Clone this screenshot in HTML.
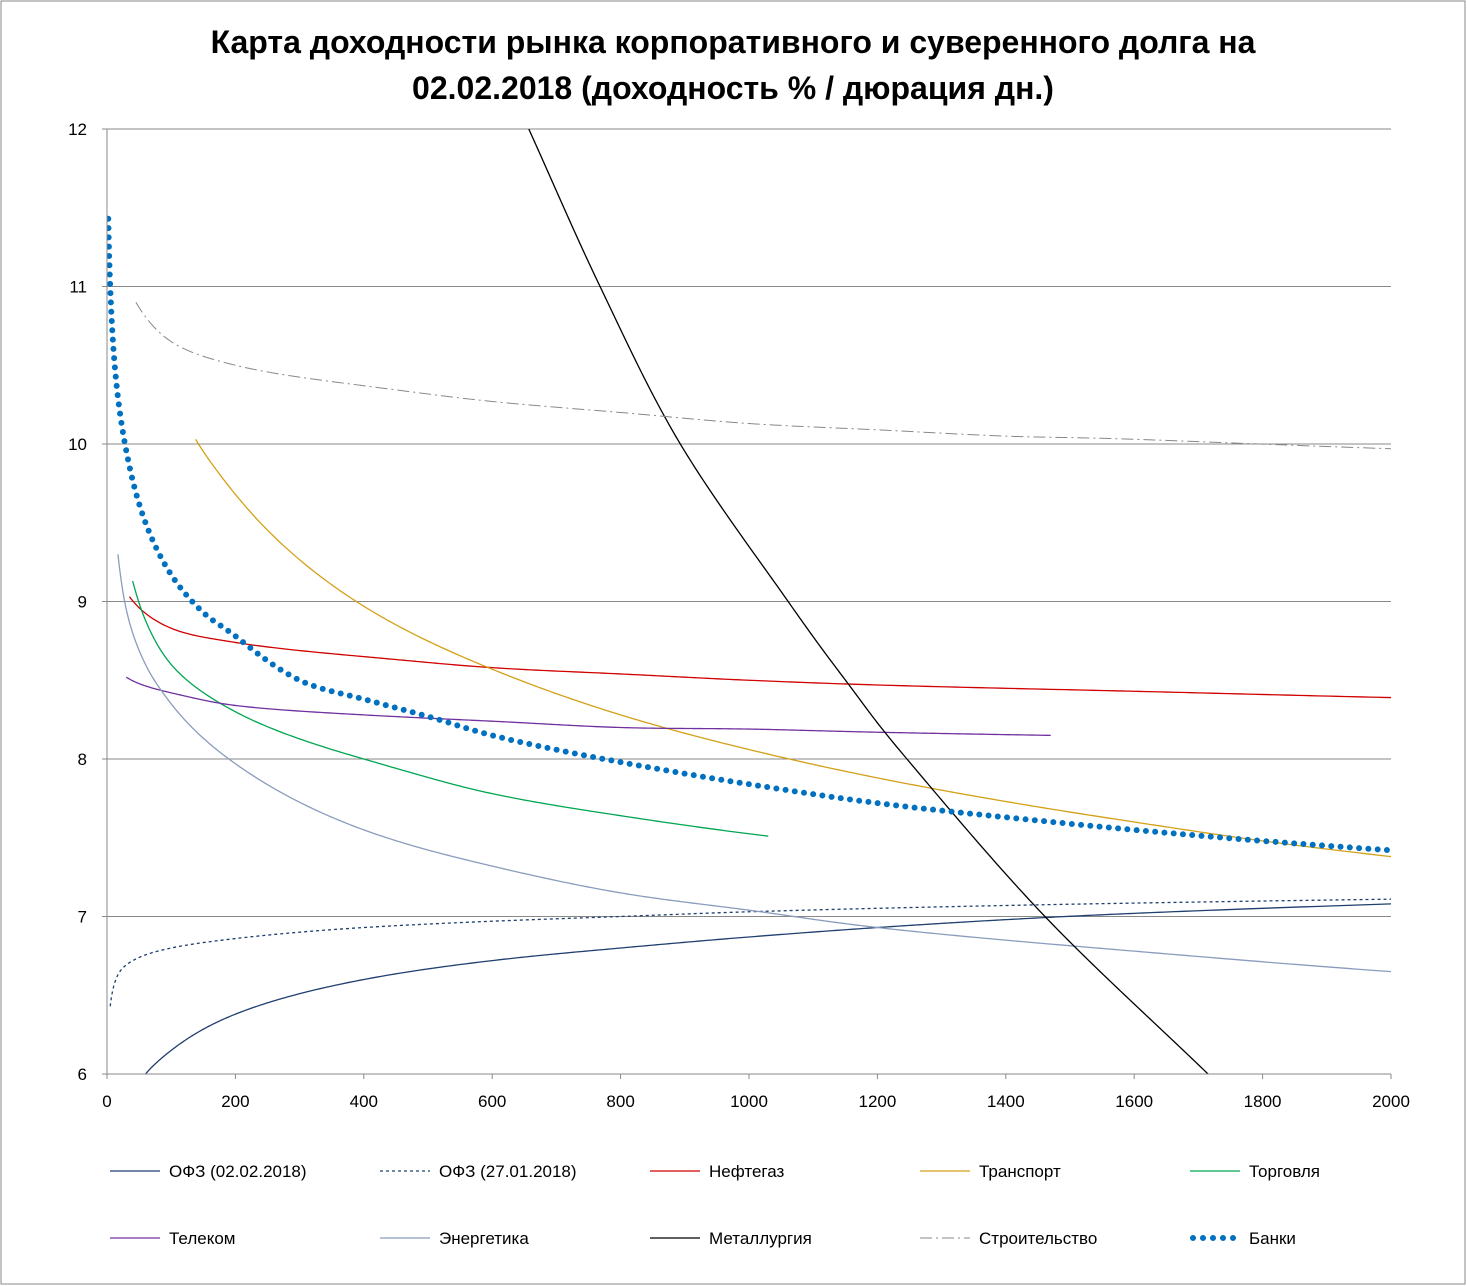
<!DOCTYPE html>
<html><head><meta charset="utf-8">
<style>
html,body{margin:0;padding:0;background:#fff;}
svg{display:block;font-family:"Liberation Sans",sans-serif;}
</style></head>
<body>
<svg id="chart" width="1467" height="1286" xmlns="http://www.w3.org/2000/svg">
<defs><clipPath id="plotclip"><rect x="107" y="129" width="1286" height="945"/></clipPath></defs>
<rect x="1" y="1" width="1464" height="1283" fill="#fff" stroke="#888"/>
<text x="733" y="53" text-anchor="middle" font-size="32" font-weight="bold">Карта доходности рынка корпоративного и суверенного долга на</text>
<text x="733" y="99" text-anchor="middle" font-size="32" font-weight="bold">02.02.2018 (доходность % / дюрация дн.)</text>
<g id="grid"></g>
<g id="series"></g>
<g id="axes"></g>
<g id="legend"></g>
</svg>
<script>
const xTickLabels=[0,200,400,600,800,1000,1200,1400,1600,1800,2000];
const yTickLabels=[6,7,8,9,10,11,12];
const seriesNames=["ОФЗ (02.02.2018)","ОФЗ (27.01.2018)","Нефтегаз","Транспорт","Торговля","Телеком","Энергетика","Металлургия","Строительство","Банки"];
const ofz0202X=[60,100,200,400,600,800,1000,1200,1400,1600,2000];
const ofz0202Y=[6.0,6.15,6.38,6.6,6.72,6.8,6.87,6.93,6.98,7.02,7.08];
const ofz2701X=[5,10,20,50,100,200,400,600,800,1000,1400,2000];
const ofz2701Y=[6.43,6.55,6.65,6.74,6.8,6.86,6.93,6.97,7.0,7.03,7.07,7.11];
const neftegazX=[35,100,200,400,600,800,1000,1200,1600,2000];
const neftegazY=[9.03,8.83,8.74,8.65,8.58,8.54,8.5,8.47,8.43,8.39];
const transportX=[138,200,400,600,800,1000,1200,1400,1600,1800,2000];
const transportY=[10.03,9.68,8.97,8.57,8.28,8.06,7.88,7.73,7.6,7.48,7.38];
const torgovlyaX=[40,60,100,200,400,600,800,1030];
const torgovlyaY=[9.13,8.88,8.6,8.3,8.0,7.78,7.64,7.51];
const telekomX=[30,100,200,400,600,800,1000,1200,1470];
const telekomY=[8.52,8.42,8.34,8.28,8.24,8.2,8.19,8.17,8.15];
const energetikaX=[17,30,60,100,200,400,600,800,1000,1200,1600,2000];
const energetikaY=[9.3,8.95,8.6,8.35,7.97,7.55,7.32,7.15,7.04,6.93,6.78,6.65];
const metallurgX=[657,768,893,1061,1154,1246,1461,1715];
const metallurgY=[12,11,10,9,8.48,8,7,6];
const stroitX=[45,100,200,400,600,800,1000,1200,1400,1600,2000];
const stroitY=[10.9,10.65,10.5,10.37,10.27,10.2,10.13,10.09,10.05,10.03,9.97];
const bankiX=[2,5,12,28,60,100,150,200,300,400,500,600,800,1000,1200,1400,1600,1800,2000];
const bankiY=[11.43,11.0,10.5,10.0,9.5,9.17,8.93,8.78,8.5,8.38,8.27,8.15,7.98,7.84,7.72,7.63,7.55,7.48,7.42];

const X0=107,X1=1391,Y0=1074,Y1=129,XMAX=2000,YMIN=6,YMAX=12;
function sx(v){return X0+v/XMAX*(X1-X0);}
function sy(v){return Y0-(v-YMIN)/(YMAX-YMIN)*(Y0-Y1);}
const NS="http://www.w3.org/2000/svg";
function mk(tag,attrs,parent){const e=document.createElementNS(NS,tag);for(const k in attrs)e.setAttribute(k,attrs[k]);parent.appendChild(e);return e;}

const grid=document.getElementById('grid');
yTickLabels.forEach(v=>{
  if(v>YMIN){const l=mk('line',{x1:X0,x2:X1,y1:sy(v),y2:sy(v),stroke:'#888','stroke-width':1},grid);
  
  }
});
const axes=document.getElementById('axes');
const xa=mk('line',{x1:X0,x2:X1,y1:Y0,y2:Y0,stroke:'#888'},axes);


const ya=mk('line',{x1:X0,x2:X0,y1:Y1,y2:Y0,stroke:'#888'},axes);


yTickLabels.forEach(v=>{
  const t=mk('text',{x:X0-20,y:sy(v)+6,'text-anchor':'end','font-size':17},axes);t.textContent=v;
  
  
  const tk=mk('line',{x1:X0-5,x2:X0,y1:sy(v),y2:sy(v),stroke:'#888'},axes);
  
  
});
xTickLabels.forEach(v=>{
  const t=mk('text',{x:sx(v),y:Y0+33,'text-anchor':'middle','font-size':17},axes);t.textContent=v;
  
  
  const tk=mk('line',{x1:sx(v),x2:sx(v),y1:Y0,y2:Y0+5,stroke:'#888'},axes);
  
  
});

const styles=[
 {c:'#1f3f6f',w:1.3,d:''},
 {c:'#1f3f6f',w:1.3,d:'3 3'},
 {c:'#d00000',w:1.3,d:''},
 {c:'#d4a017',w:1.3,d:''},
 {c:'#00a651',w:1.3,d:''},
 {c:'#7030a0',w:1.3,d:''},
 {c:'#8a9cbd',w:1.3,d:''},
 {c:'#000',w:1.3,d:''},
 {c:'#888',w:1,d:'12 4 2 4'},
 {c:'#0070c0',w:6,d:'0 9.3',cap:'round'}
];
const data=[[ofz0202X,ofz0202Y],[ofz2701X,ofz2701Y],[neftegazX,neftegazY],[transportX,transportY],[torgovlyaX,torgovlyaY],[telekomX,telekomY],[energetikaX,energetikaY],[metallurgX,metallurgY],[stroitX,stroitY],[bankiX,bankiY]];
const keys=['ofz-0202','ofz-2701','neftegaz','transport','torgovlya','telekom','energetika','metallurgiya','stroitelstvo','banki'];
const logSpace=[true,true,true,true,true,true,true,false,true,true];

// Catmull-Rom in (u,y) space, u = ln(x) for log-shaped curves, sampled densely
function sampleCurve(xs,ys,useLog){
  const u=xs.map(x=>useLog?Math.log(x):x);
  const out=[];
  const n=xs.length;
  for(let i=0;i<n-1;i++){
    const i0=Math.max(0,i-1),i3=Math.min(n-1,i+2);
    const P=[[u[i0],ys[i0]],[u[i],ys[i]],[u[i+1],ys[i+1]],[u[i3],ys[i3]]];
    if(i===0){P[0]=[2*P[1][0]-P[2][0],2*P[1][1]-P[2][1]];}
    if(i+2>n-1){P[3]=[2*P[2][0]-P[1][0],2*P[2][1]-P[1][1]];}
    const S=40;
    for(let k=(i===0?0:1);k<=S;k++){
      const t=k/S,t2=t*t,t3=t2*t;
      const f=j=>0.5*((2*P[1][j])+(-P[0][j]+P[2][j])*t+(2*P[0][j]-5*P[1][j]+4*P[2][j]-P[3][j])*t2+(-P[0][j]+3*P[1][j]-3*P[2][j]+P[3][j])*t3);
      const uu=f(0),yy=f(1);
      const xx=useLog?Math.exp(uu):uu;
      out.push([sx(xx),sy(yy)]);
    }
  }
  return out;
}
const sg=document.getElementById('series');
data.forEach((s,i)=>{
  const pts=sampleCurve(s[0],s[1],logSpace[i]);
  const st=styles[i];
  const d='M'+pts.map(p=>p[0].toFixed(2)+','+p[1].toFixed(2)).join(' L');
  const p=mk('path',{d:d,fill:'none',stroke:st.c,'stroke-width':st.w,'clip-path':'url(#plotclip)','stroke-linejoin':'round'},sg);
  if(st.d)p.setAttribute('stroke-dasharray',st.d);
  if(st.cap)p.setAttribute('stroke-linecap',st.cap);
  
  
});

const lg=document.getElementById('legend');
const lx=[110,380,650,920,1190];
seriesNames.forEach((n,i)=>{
  const col=i%5,row=Math.floor(i/5);
  const y=row?1238:1171;
  const st=styles[i];
  const l=mk('line',{x1:lx[col],x2:lx[col]+50,y1:y,y2:y,stroke:st.c,'stroke-width':st.w},lg);
  if(st.d)l.setAttribute('stroke-dasharray',st.d);
  if(st.cap){l.setAttribute('stroke-linecap',st.cap);l.setAttribute('x1',lx[col]+3);l.setAttribute('stroke-dasharray','0 10');}
  
  
  const t=mk('text',{x:lx[col]+59,y:y+6,'font-size':17},lg);t.textContent=n;
  
  
});
</script>
</body></html>
